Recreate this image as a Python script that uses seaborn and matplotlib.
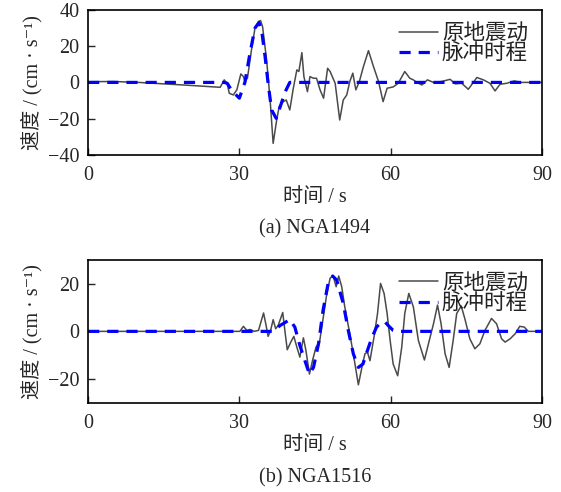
import numpy as np
import pandas as pd
import matplotlib
matplotlib.use("Agg")
import matplotlib.pyplot as plt
import seaborn as sns

# ---------------- data ----------------
# (a) NGA1494 original ground motion
t_a_orig = [0, 5, 10, 15, 20, 26.2, 27.0, 27.6, 28.0, 28.8, 29.5, 30.3, 30.8, 31.1, 31.6, 32.4, 33.1,
            33.8, 34.2, 34.6, 35.4, 36.1, 36.7, 37.4, 37.9, 38.7, 39.3, 40.0, 40.7, 41.4, 41.8, 42.4,
            42.8, 43.5, 44.0, 44.7, 45.3, 46.0, 46.7, 47.5, 48.0, 49.0, 49.9, 50.6, 51.3, 51.9, 52.5,
            53.1, 53.8, 54.6, 55.6, 56.6, 57.6, 58.5, 59.3, 60.5, 61.5, 62.8, 63.8, 64.5, 65.2, 66.2,
            67.3, 68.5, 70.1, 71.8, 72.8, 74.1, 75.4, 77.1, 78.4, 79.7, 80.7, 81.7, 83.0, 84.5, 86.0,
            87.6, 90]
v_a_orig = [0.4, 0.5, 0.0, -0.8, -1.6, -2.7, 1.4, -0.8, -6.0, -6.9, -4.1, 4.7, 3.2, 0.8, 2.3, 17.9, 29.9,
            33.6, 34.1, 30.8, 12.4, -9.7, -33.6, -20.7, -13.3, -10.6, -9.7, -15.2, -3.2, 6.9, 6.0, 16.4,
            3.2, -5.1, 3.2, 2.3, 2.3, -4.1, -8.7, 7.8, 6.0, -0.5, -20.7, -9.7, -6.9, 0.5, 5.1,
            -4.1, 0.5, 8.7, 17.5, 8.7, 0.5, -10.6, -3.2, -2.5, -0.5, 6.0, 2.3, 1.4, 0.0, -1.4,
            1.4, 0.0, 0.5, 1.7, -0.8, -0.5, -3.8, 2.7, 1.4, -0.5, -4.7, -1.0, -0.5, 0.8, 0.0,
            0.0, 0.0]

# (a) NGA1494 pulse
t_a_pulse = [0, 27.0, 27.6, 28.5, 30.0, 31.1, 32.1, 33.1, 33.9, 34.4, 35.1, 35.7, 36.4, 37.3, 38.1,
             39.1, 40.0, 90]
v_a_pulse = [0, 0, -0.5, -4.5, -8.7, 0.0, 16.1, 30.0, 33.0, 29.0, 14.2, -0.5, -15.2, -19.8, -13.4,
             -5.1, 0, 0]

# (b) NGA1516 original ground motion
t_b_orig = [0, 30.1, 30.8, 31.5, 32.1, 32.9, 33.8, 34.8, 35.3, 35.7, 36.2, 36.7, 37.2, 37.7, 38.6,
            39.1, 39.5, 40.2, 40.8, 41.4, 42.0, 42.7, 43.2, 43.9, 44.5, 45.2, 45.9, 46.5, 47.3, 48.0,
            48.6, 49.2, 49.7, 50.3, 50.9, 51.9, 52.7, 53.6, 54.3, 54.9, 55.4, 55.9, 56.7, 57.4, 58.0,
            58.7, 59.3, 59.9, 60.5, 61.4, 62.2, 62.8, 63.6, 64.5, 65.5, 66.7, 67.5, 68.5, 69.3, 70.0,
            70.8, 71.6, 72.4, 73.1, 74.0, 74.7, 75.7, 76.7, 77.7, 78.7, 80.0, 81.0, 82.0, 82.7, 83.7,
            84.7, 85.6, 86.5, 87.3, 90]
v_b_orig = [0, 0, 2.1, 0.4, 0.8, 0.0, 0.4, 7.7, 2.5, -2.1, 0.4, 4.9, 1.1, 2.5, 7.9,
            -1.0, -7.7, -4.5, -2.1, -6.6, -10.8, -2.7, -8.0, -17.9, -12.3, -6.6, -4.5, 3.9, 15.2, 22.3,
            23.2, 18.7, 23.2, 18.7, 10.3, -1.0, -10.8, -22.4, -15.1, -9.4, -8.7, -12.3, -2.4, 7.5, 20.1,
            15.9, 7.5, -3.8, -13.7, -18.6, -6.6, 7.5, 15.9, 10.3, -3.8, -12.0, -5.2, 3.2, 11.0, 3.2,
            -9.4, -15.1, -3.8, 7.5, 10.6, 5.4, -3.1, -7.3, -5.2, 0.4, 5.4, 3.2, -3.1, -4.5, -3.1,
            -1.0, 2.1, 1.8, 0.0, 0.0]

# (b) NGA1516 pulse
t_b_pulse = [0, 36.7, 38.1, 40.0, 41.0, 42.0, 43.0, 43.9, 44.7, 45.7, 46.6, 47.6, 48.5, 49.3, 50.6,
             51.6, 52.6, 53.6, 54.5, 55.4, 56.2, 57.2, 58.2, 58.9, 59.5, 60.5, 61.2, 90]
v_b_pulse = [0, 0, 2.5, 4.9, 1.8, -5.9, -12.3, -17.9, -15.1, -5.2, 8.9, 20.1, 23.2, 21.5, 11.7,
             0.4, -9.4, -15.1, -13.7, -8.0, -3.1, 1.8, 3.9, 3.9, 2.5, 0.4, 0, 0]

x_ticks = [0, 30, 60, 90]
label_orig = "原地震动"
label_pulse = "脉冲时程"
xlabel = "时间 / s"
ylabel = "速度 / (cm · s⁻¹)"
captions = ["(a) NGA1494", "(b) NGA1516"]

# ---------------- style ----------------
sns.set_style("ticks")
plt.rcParams["font.family"] = ["Liberation Serif", "Noto Sans CJK SC", "DejaVu Sans"]
plt.rcParams["axes.unicode_minus"] = True

fig = plt.figure(figsize=(5.61, 4.92), dpi=100)
ax1 = fig.add_axes([0.157, 0.685, 0.809, 0.295])
ax2 = fig.add_axes([0.157, 0.181, 0.809, 0.291])

panels = [
    (ax1, t_a_orig, v_a_orig, t_a_pulse, v_a_pulse, (-40, 40), [-40, -20, 0, 20, 40]),
    (ax2, t_b_orig, v_b_orig, t_b_pulse, v_b_pulse, (-30, 30), [-20, 0, 20]),
]

for i, (ax, to, vo, tp, vp, ylim, yt) in enumerate(panels):
    df_o = pd.DataFrame({"t": to, "v": vo})
    df_p = pd.DataFrame({"t": tp, "v": vp})
    sns.lineplot(data=df_o, x="t", y="v", ax=ax, color="#4a4a4a", lw=1.1,
                 label=label_orig, sort=False)
    sns.lineplot(data=df_p, x="t", y="v", ax=ax, color="#0000ff", lw=2.3,
                 linestyle=(0, (3.5, 2.5)), label=label_pulse, sort=False)
    ax.set_xlim(0, 90)
    ax.set_ylim(*ylim)
    ax.set_xticks(x_ticks)
    ax.set_yticks(yt)
    ax.tick_params(axis="x", direction="in", length=5, width=1, labelsize=14.5, pad=8)
    ax.tick_params(axis="y", direction="in", length=5, width=1, labelsize=14.5, pad=6)
    for s in ax.spines.values():
        s.set_linewidth(1.2)
        s.set_color("black")
    ax.set_xlabel("")
    ax.set_ylabel(ylabel, fontsize=14.5, labelpad=4)
    leg = ax.legend(loc="upper right", frameon=False, fontsize=15.5, handlelength=1.8,
                    handletextpad=0.2, borderaxespad=0.25, labelspacing=0.0)
    for txt in leg.get_texts():
        txt.set_color("#222222")

cx = 0.5 * (0.157 + 0.966)
fig.text(cx, 1 - 197 / 492, xlabel, ha="center", va="center", fontsize=14.5)
fig.text(cx, 1 - 229 / 492, captions[0], ha="center", va="center", fontsize=14.5)
fig.text(cx, 1 - 446 / 492, xlabel, ha="center", va="center", fontsize=14.5)
fig.text(cx, 1 - 478 / 492, captions[1], ha="center", va="center", fontsize=14.5)

fig.savefig("out.png", dpi=100)
